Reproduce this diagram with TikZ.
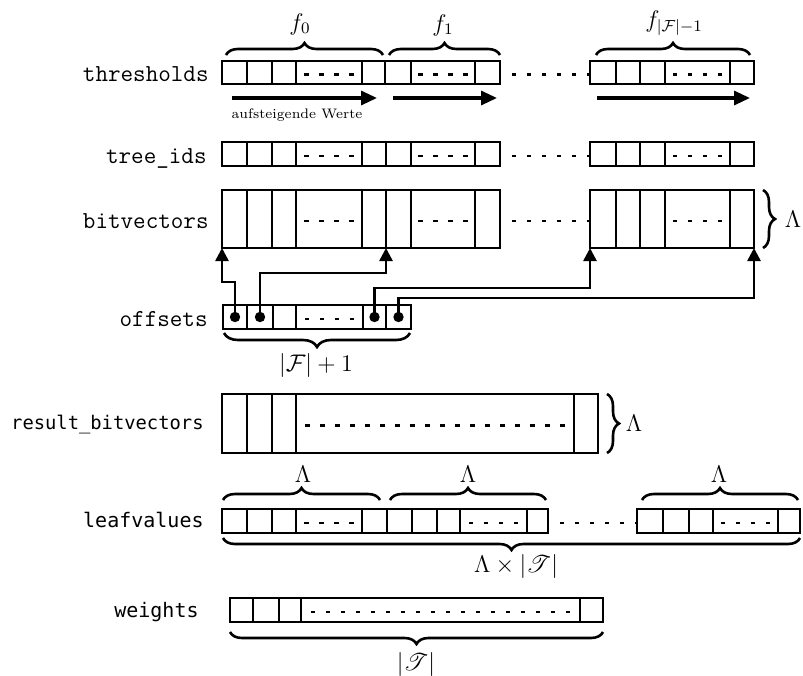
\documentclass[tikz,border=0pt]{standalone}
\usepackage{fontspec}
\usepackage{mathrsfs}
\newfontfamily\dvmono{DejaVu Sans Mono}
\usetikzlibrary{decorations.pathreplacing,arrows.meta}
\newcommand\mkrow[4]{%
  \foreach \xa/\xb/\kk [count=\ii] in {#4} {%
    \node[cellbox, minimum width={(\xb-\xa)*0.5pt}, minimum height={(#3-#2)*0.5pt}] (#1\ii) at ({(\xa+\xb)/2},{(#2+#3)/2}) {};
    \ifnum\kk=1
      \pgfmathtruncatemacro\nd{(\xb-\xa-16.4)/15+1}
      \pgfmathsetmacro\st{(\xa+\xb)/2-((\nd-1)*15+4.4)/2}
      \draw[dotline] (\st,{(#2+#3)/2+2}) -- ({\st+(\nd-1)*15+4.4},{(#2+#3)/2+2});
    \fi
  }}
\begin{document}
\begin{tikzpicture}[x=0.5pt,y=-0.5pt,
  cellbox/.style={draw, line width=1.4pt, inner sep=0pt, outer sep=0pt},
  dotline/.style={line width=1.45pt, dash pattern=on 2.2pt off 5.3pt},
  brc/.style={decorate, decoration={brace, amplitude=6pt}, line width=1.3pt},
  conn/.style={line width=1.3pt, -{Triangle[length=6.5pt,width=6.5pt]}},
  dirarrow/.style={line width=1.6pt, -{Triangle[length=8pt,width=7pt]}},
  dotc/.style={circle, fill, inner sep=0pt, minimum size=5.2pt},
  ttlab/.style={anchor=base east, inner sep=0pt, font=\fontsize{12.2}{14}\selectfont\ttfamily},
  dvlab/.style={anchor=base east, inner sep=0pt, font=\fontsize{10}{12}\selectfont\dvmono},
  mlab/.style={inner sep=0pt, font=\fontsize{11.5}{14}\selectfont}]
\useasboundingbox (0,0) rectangle (803,675);

% row labels
\node[ttlab] (lth) at (209,81.5) {thresholds};
\node[ttlab] (lti) at (207,163) {tree\_ids};
\node[ttlab] (lbv) at (209,228) {bitvectors};
\node[ttlab] (lof) at (208,326) {offsets};
\node[dvlab, font=\fontsize{9.4}{12}\selectfont\dvmono] (lrb) at (204,429) {result\_bitvectors};
\node[dvlab] (llv) at (204,527) {leafvalues};
\node[dvlab] (lwt) at (199,617) {weights};

% arrays
\mkrow{th}{61}{84}{222/247/0,247/272/0,272/296/0,296/362/1,362/385/0,385/411/0,411/475/1,475/500/0,590/616/0,616/640/0,640/665/0,665/730/1,730/754/0}
\mkrow{ti}{142}{166}{222/247/0,247/272/0,272/296/0,296/362/1,362/386/0,386/411/0,411/475/1,475/500/0,590/616/0,616/640/0,640/665/0,665/730/1,730/754/0}
\mkrow{bv}{190}{248}{222/247/0,247/272/0,272/296/0,296/362/1,362/386/0,386/411/0,411/475/1,475/500/0,590/616/0,616/640/0,640/665/0,665/730/1,730/754/0}
\mkrow{of}{305}{329}{223/247/0,247/273/0,273/296/0,296/363/1,363/386/0,386/411/0}
\mkrow{rb}{394}{453}{222/247/0,247/272/0,272/296/0,296/574/1,574/598/0}
\mkrow{lv}{509}{533}{222/247/0,247/272/0,272/296/0,296/362/1,362/387/0,387/412/0,412/437/0,437/460/0,460/527/1,527/548/0,637/663/0,663/689/0,689/713/0,713/778/1,778/800/0}
\mkrow{wt}{598}{622}{230/253/0,253/279/0,279/301/0,301/580/1,580/603/0}

% dotted gaps between groups
\draw[dotline] ([xshift=6pt,yshift=-1pt]th8.east) -- ([yshift=-1pt]th9.west);
\draw[dotline] ([xshift=6pt,yshift=-1pt]ti8.east) -- ([yshift=-1pt]ti9.west);
\draw[dotline] ([xshift=6pt,yshift=-1pt]bv8.east) -- ([yshift=-1pt]bv9.west);
\draw[dotline] ([xshift=6pt,yshift=-1pt]lv10.east) -- ([yshift=-1pt]lv11.west);

% ascending-value arrows
\coordinate (a1s) at (232,98); \coordinate (a1e) at (377,98);
\coordinate (a2s) at (393,98); \coordinate (a2e) at (497,98);
\coordinate (a3s) at (597,98); \coordinate (a3e) at (750,98);
\draw[dirarrow] (a1s) -- (a1e);
\draw[dirarrow] (a2s) -- (a2e);
\draw[dirarrow] (a3s) -- (a3e);
\node[font=\fontsize{6.9}{8}\selectfont] (asc) at (297,115) {aufsteigende Werte};

% braces over thresholds
\draw[brc] (226,55) -- (383,55);
\draw[brc] (389,55) -- (500,55);
\draw[brc] (596,55) -- (750,55);
\node[mlab] (lf0) at (300,24) {$f_0$};
\node[mlab] (lf1) at (443,25) {$f_1$};
\node[mlab] (lfn) at (674,23) {$f_{|\mathcal{F}|-1}$};

% bitvectors brace
\draw[brc] (763,190) -- (763,248);
\node[mlab] (lbl) at (793,219) {$\Lambda$};

% offsets dots and connectors
\node[dotc] (od1) at (of1) {};
\node[dotc] (od2) at (of2) {};
\node[dotc] (od3) at (of5) {};
\node[dotc] (od4) at (of6) {};
\coordinate (y1) at (0,282);
\coordinate (y2) at (0,273);
\coordinate (y3) at (0,288);
\coordinate (y4) at (0,298);
\draw[conn] (od1.center) |- (y1 -| bv1.south west) -- (bv1.south west);
\draw[conn] (od2.center) |- (y2 -| bv6.south west) -- (bv6.south west);
\draw[conn] (od3.center) |- (y3 -| bv9.south west) -- (bv9.south west);
\draw[conn] (od4.center) |- (y4 -| bv13.south east) -- (bv13.south east);

% offsets brace
\draw[brc, decoration={brace, amplitude=7pt}] (410,333) -- (224,333);
\node[mlab] (lofb) at (316,365) {$|\mathcal{F}|+1$};

% result brace
\draw[brc] (607,394) -- (607,453);
\node[mlab] (lrbl) at (634,423) {$\Lambda$};

% leafvalues braces
\draw[brc] (223,500) -- (380,500);
\draw[brc] (390,500) -- (546,500);
\draw[brc] (642,500) -- (798,500);
\node[mlab] (ll1) at (303,474) {$\Lambda$};
\node[mlab] (ll2) at (468,474) {$\Lambda$};
\node[mlab] (ll3) at (719,474) {$\Lambda$};
\draw[brc] (800,538) -- (223,538);
\node[mlab] (llb) at (516,566) {$\Lambda\times|\mathscr{T}|$};

% weights brace
\draw[brc] (603,632) -- (230,632);
\node[mlab] (lwb) at (416,664) {$|\mathscr{T}|$};
\end{tikzpicture}
\end{document}
